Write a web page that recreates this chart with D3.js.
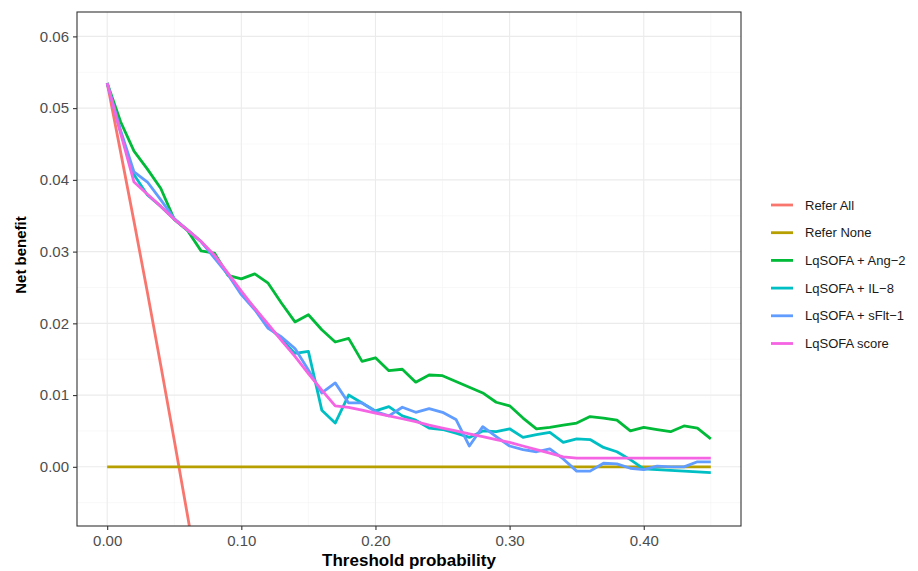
<!DOCTYPE html>
<meta charset="utf-8">
<style>
body { margin: 0; background: #fff; }
svg { display: block; font-family: "Liberation Sans", Arial, sans-serif; }
.grid-major line { stroke: #ebebeb; stroke-width: 1.1px; }
.grid-minor line { stroke: #f2f2f2; stroke-width: 0.55px; }
.axis path { display: none; }
.axis line { stroke: #333; stroke-width: 1.1px; }
.axis text { fill: #4d4d4d; font-size: 15px; }
.axis-title { font-weight: bold; fill: #000; }
.legend text { font-size: 13px; fill: #1a1a1a; }
</style>
<body>
<script src="https://cdn.jsdelivr.net/npm/d3@7"></script>
<script>

// threshold probabilities
var thresholds = [0.00,0.01,0.02,0.03,0.04,0.05,0.06,0.07,0.08,0.09,
                  0.10,0.11,0.12,0.13,0.14,0.15,0.16,0.17,0.18,0.19,
                  0.20,0.21,0.22,0.23,0.24,0.25,0.26,0.27,0.28,0.29,
                  0.30,0.31,0.32,0.33,0.34,0.35,0.36,0.37,0.38,0.39,
                  0.40,0.41,0.42,0.43,0.44,0.45];

var referAllX = [0.00,0.01,0.02,0.03,0.04,0.05,0.06,0.07];
var referAll  = [0.0535,0.0439,0.0342,0.0243,0.0141,0.0037,-0.0069,-0.0177];

var referNoneX = [0.00, 0.45];
var referNone  = [0, 0];

var ang2 = [0.0535,0.0481,0.0440,0.0415,0.0388,0.0345,0.0329,0.0301,0.0298,0.0267,
            0.0262,0.0269,0.0256,0.0228,0.0202,0.0212,0.0191,0.0174,0.0179,0.0147,
            0.0152,0.0134,0.0136,0.0118,0.0128,0.0127,0.0119,0.0111,0.0103,0.0090,
            0.0085,0.0068,0.0053,0.0055,0.0058,0.0061,0.0070,0.0068,0.0065,0.0050,
            0.0055,0.0052,0.0049,0.0057,0.0054,0.0039];

var il8 = [0.0535,0.0467,0.0407,0.0379,0.0363,0.0345,0.0330,0.0314,0.0293,0.0269,
           0.0242,0.0221,0.0196,0.0178,0.0158,0.0161,0.0079,0.0061,0.0100,0.0089,
           0.0078,0.0084,0.0071,0.0065,0.0054,0.0052,0.0047,0.0041,0.0050,0.0049,
           0.0053,0.0041,0.0045,0.0048,0.0034,0.0039,0.0038,0.0027,0.0021,0.0010,
           -0.0003,-0.0004,-0.0005,-0.0006,-0.0007,-0.0008];

var sflt1 = [0.0535,0.0469,0.0411,0.0397,0.0372,0.0346,0.0330,0.0314,0.0291,0.0268,
             0.0240,0.0219,0.0193,0.0181,0.0165,0.0135,0.0103,0.0117,0.0089,0.0089,
             0.0077,0.0071,0.0083,0.0076,0.0081,0.0076,0.0066,0.0029,0.0056,0.0042,
             0.0029,0.0024,0.0021,0.0025,0.0011,-0.0006,-0.0006,0.0005,0.0004,-0.0002,
             -0.0004,0.0001,0.0000,0.0000,0.0007,0.0007];

var score = [0.0535,0.0465,0.0397,0.0380,0.0363,0.0345,0.0330,0.0314,0.0295,0.0270,
             0.0245,0.0221,0.0199,0.0176,0.0154,0.0130,0.0107,0.0085,0.0083,0.0079,
             0.0075,0.0071,0.0067,0.0063,0.0058,0.0054,0.0050,0.0046,0.0042,0.0038,
             0.0034,0.0029,0.0024,0.0019,0.0014,0.0012,0.0012,0.0012,0.0012,0.0012,
             0.0012,0.0012,0.0012,0.0012,0.0012,0.0012];

var labels = ["Refer All","Refer None","LqSOFA + Ang\u22122","LqSOFA + IL\u22128","LqSOFA + sFlt\u22121","LqSOFA score"];
var colors = ["#F8766D","#B79F00","#00BA38","#00BFC4","#619CFF","#F564E3"];

var xTicks = [0, 0.1, 0.2, 0.3, 0.4];
var xMinor = [0.05, 0.15, 0.25, 0.35, 0.45];
var yTicks = [0, 0.01, 0.02, 0.03, 0.04, 0.05, 0.06];
var yMinor = [-0.005, 0.005, 0.015, 0.025, 0.035, 0.045, 0.055];

var W = 918, H = 571;
var panel = {left: 77, right: 741, top: 12, bottom: 526};

var x = d3.scaleLinear().domain([-0.0225, 0.4725]).range([panel.left, panel.right]);
var y = d3.scaleLinear().domain([-0.00825, 0.0634]).range([panel.bottom, panel.top]);

var svg = d3.select("body").append("svg")
    .attr("width", W)
    .attr("height", H);

svg.append("rect").attr("width", W).attr("height", H).attr("fill", "#fff");

svg.append("clipPath").attr("id", "clip")
  .append("rect")
    .attr("x", panel.left).attr("y", panel.top)
    .attr("width", panel.right - panel.left)
    .attr("height", panel.bottom - panel.top);

// grid lines
var minor = svg.append("g").attr("class", "grid-minor");
minor.selectAll(".vx").data(xMinor).enter().append("line")
    .attr("x1", d => x(d)).attr("x2", d => x(d))
    .attr("y1", panel.top).attr("y2", panel.bottom);
minor.selectAll(".hy").data(yMinor).enter().append("line")
    .attr("y1", d => y(d)).attr("y2", d => y(d))
    .attr("x1", panel.left).attr("x2", panel.right);

var major = svg.append("g").attr("class", "grid-major");
major.selectAll(".vx").data(xTicks).enter().append("line")
    .attr("x1", d => x(d)).attr("x2", d => x(d))
    .attr("y1", panel.top).attr("y2", panel.bottom);
major.selectAll(".hy").data(yTicks).enter().append("line")
    .attr("y1", d => y(d)).attr("y2", d => y(d))
    .attr("x1", panel.left).attr("x2", panel.right);

// lines
var line = d3.line()
    .x(d => x(d[0]))
    .y(d => y(d[1]));

var series = [
  d3.zip(referAllX, referAll),
  d3.zip(referNoneX, referNone),
  d3.zip(thresholds, ang2),
  d3.zip(thresholds, il8),
  d3.zip(thresholds, sflt1),
  d3.zip(thresholds, score)
];

svg.append("g").attr("clip-path", "url(#clip)")
  .selectAll("path").data(series).enter().append("path")
    .attr("d", line)
    .attr("fill", "none")
    .attr("stroke", (d, i) => colors[i])
    .attr("stroke-width", 2.8)
    .attr("stroke-linejoin", "round");

// panel border
svg.append("rect")
    .attr("x", panel.left).attr("y", panel.top)
    .attr("width", panel.right - panel.left)
    .attr("height", panel.bottom - panel.top)
    .attr("fill", "none")
    .attr("stroke", "#333")
    .attr("stroke-width", 1.1);

// axes
svg.append("g")
    .attr("class", "axis")
    .attr("transform", "translate(0," + panel.bottom + ")")
    .call(d3.axisBottom(x).tickValues(xTicks).tickSize(4).tickPadding(5).tickFormat(d3.format(".2f")));

svg.append("g")
    .attr("class", "axis")
    .attr("transform", "translate(" + panel.left + ",0)")
    .call(d3.axisLeft(y).tickValues(yTicks).tickSize(4).tickPadding(4).tickFormat(d3.format(".2f")));

// axis titles
svg.append("text")
    .attr("class", "axis-title")
    .attr("x", (panel.left + panel.right) / 2)
    .attr("y", 566)
    .attr("text-anchor", "middle")
    .style("font-size", "17px")
    .text("Threshold probability");

svg.append("text")
    .attr("class", "axis-title")
    .attr("transform", "translate(26,255) rotate(-90)")
    .attr("text-anchor", "middle")
    .style("font-size", "15px")
    .text("Net benefit");

// legend
var legend = svg.append("g").attr("class", "legend");
var rows = legend.selectAll("g").data(labels).enter().append("g")
    .attr("transform", (d, i) => "translate(771," + (205 + i * 27.7) + ")");
rows.append("line")
    .attr("x1", 0).attr("x2", 22)
    .attr("stroke", (d, i) => colors[i])
    .attr("stroke-width", 2.8);
rows.append("text")
    .attr("x", 34)
    .attr("dy", "0.35em")
    .text(d => d);

</script>
</body>
